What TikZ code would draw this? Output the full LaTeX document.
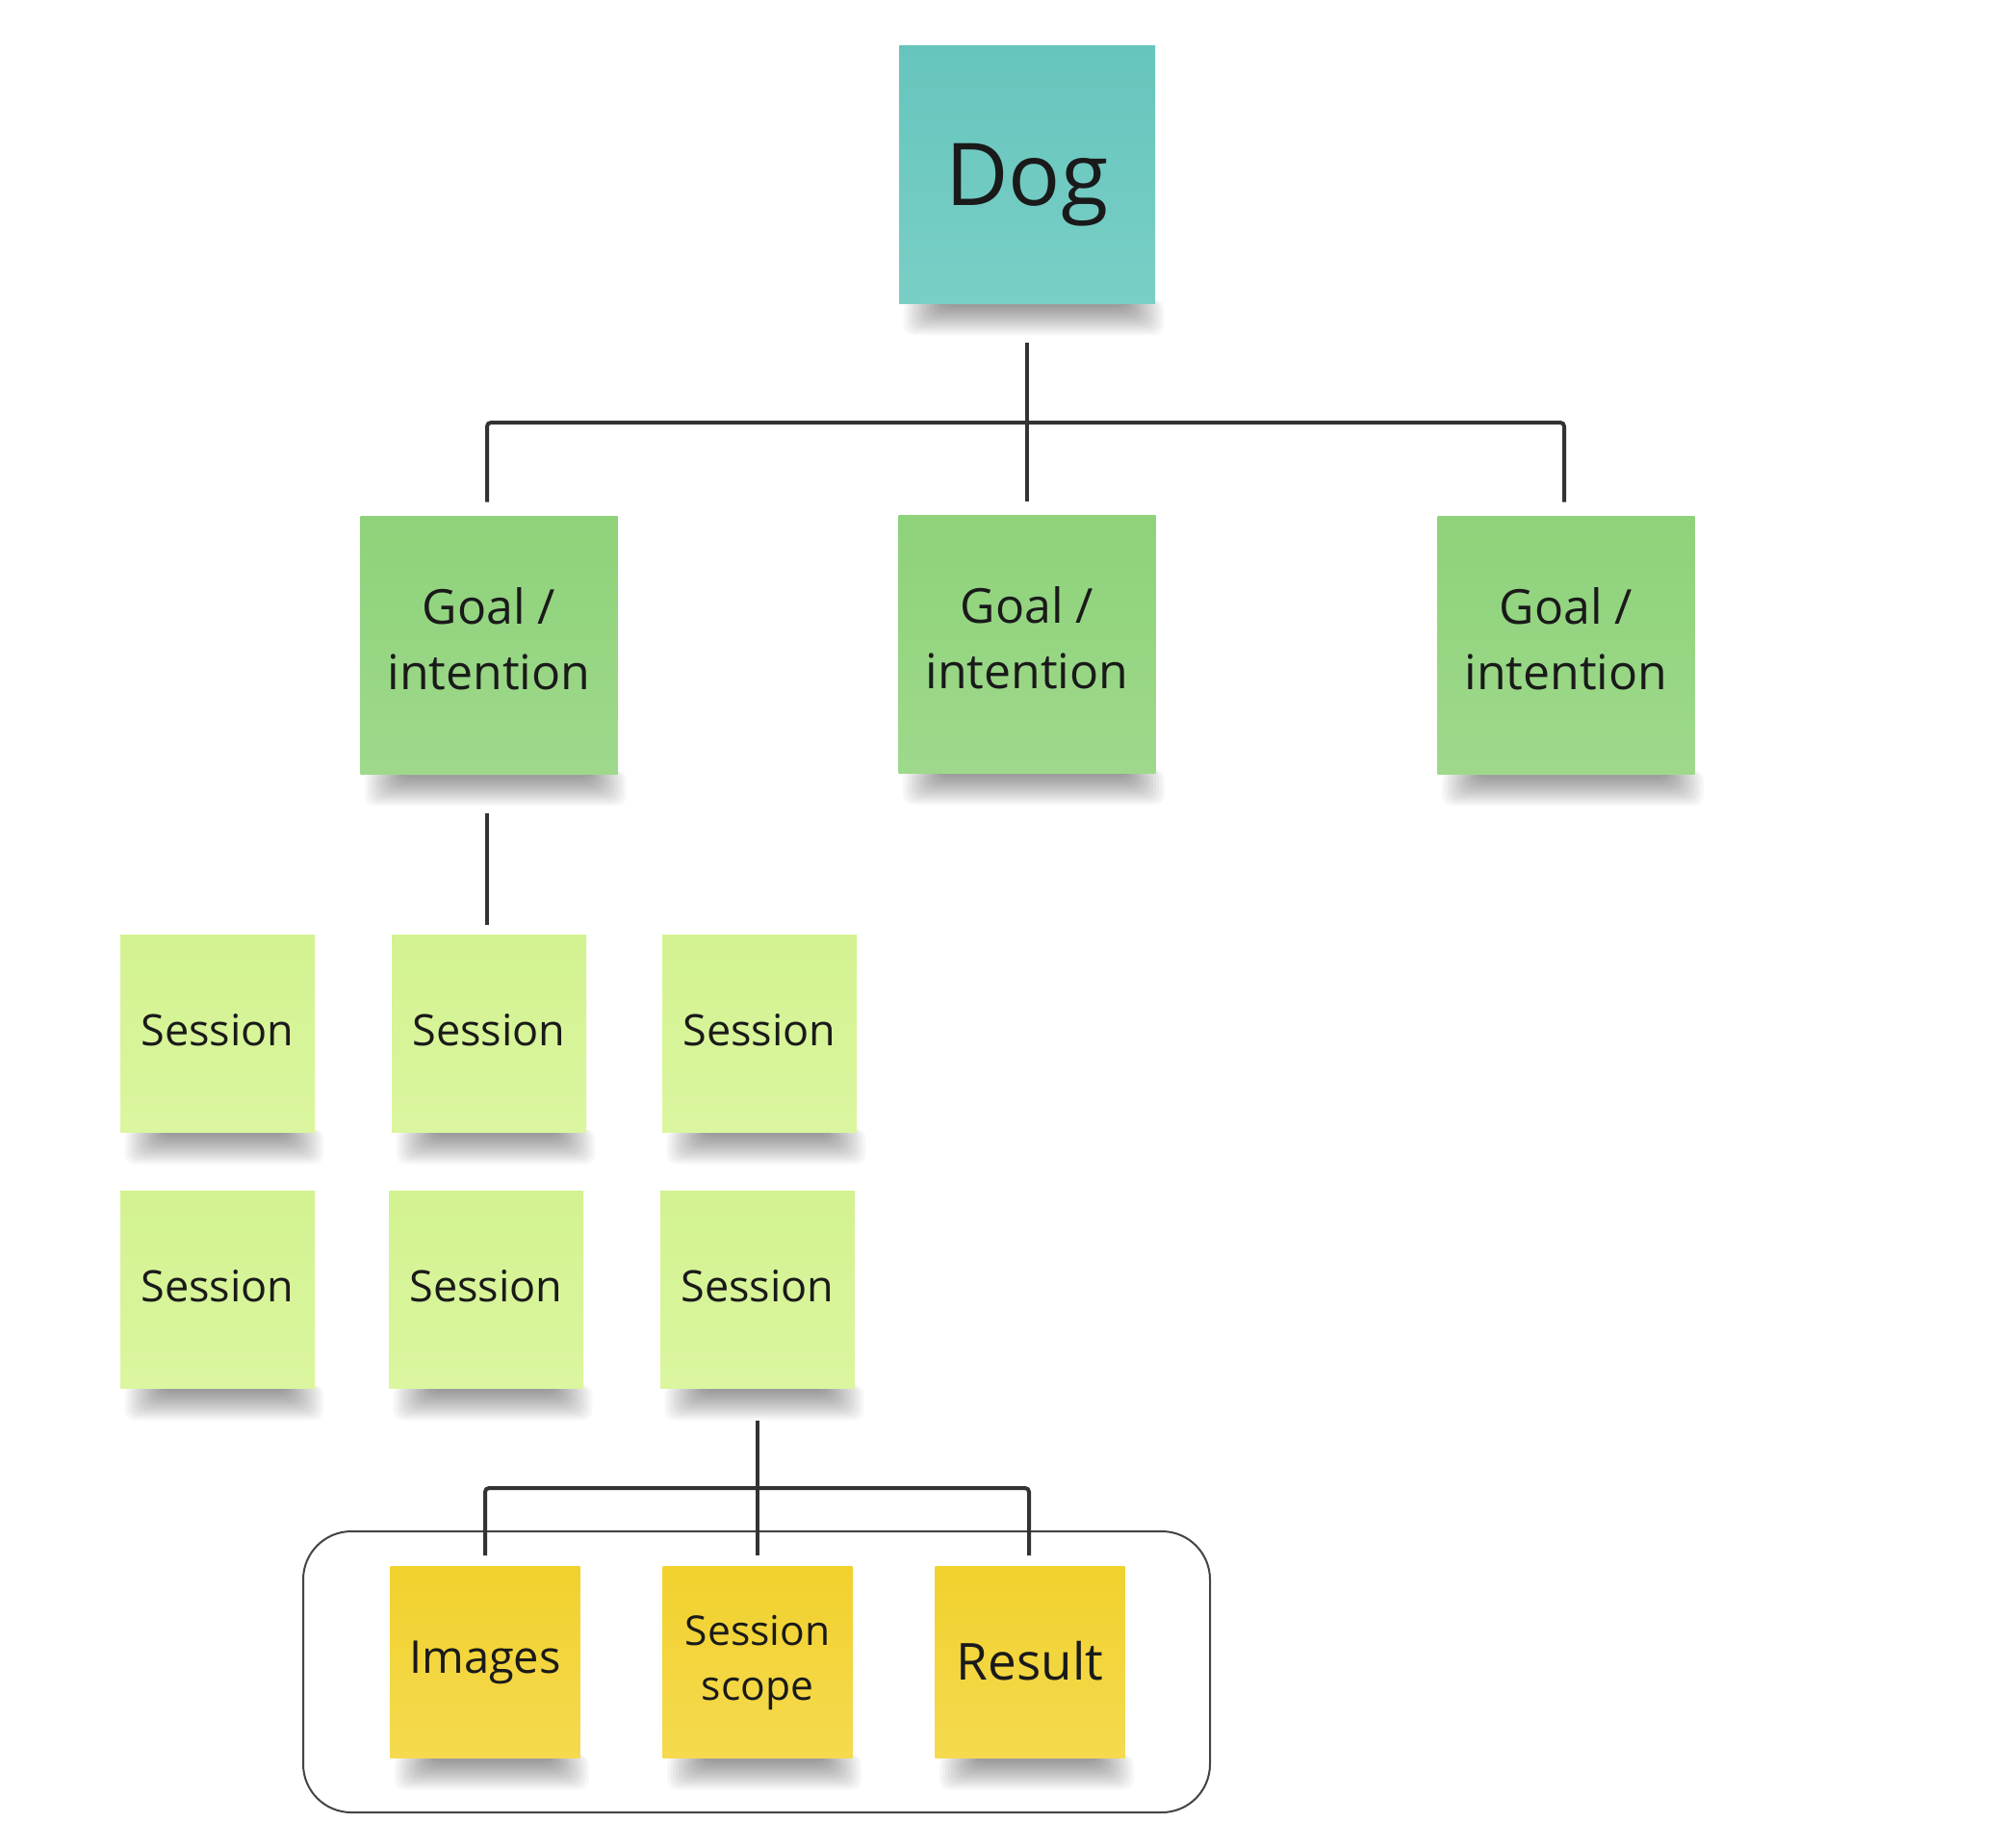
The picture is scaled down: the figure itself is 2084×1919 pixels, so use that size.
\documentclass[tikz,border=0pt]{standalone}
\usepackage{fontspec}
\setmainfont{Open Sans}
\usetikzlibrary{calc,backgrounds}
\definecolor{ink}{HTML}{1A1A1A}
\definecolor{tealT}{HTML}{66C5BD}
\definecolor{tealB}{HTML}{79CFC6}
\definecolor{greenT}{HTML}{8ED27A}
\definecolor{greenB}{HTML}{9ED98B}
\definecolor{limeT}{HTML}{D3F291}
\definecolor{limeB}{HTML}{DBF69F}
\definecolor{yelT}{HTML}{F1D12D}
\definecolor{yelB}{HTML}{F5DA4F}
\definecolor{linec}{HTML}{333333}
\definecolor{grpc}{HTML}{444444}
\tikzset{
  sticky/.style={draw=none, inner sep=0pt, align=center, text=ink},
  dogbox/.style={sticky, minimum width=133pt, minimum height=134pt, top color=tealT, bottom color=tealB, font=\fontsize{45}{54}\selectfont, text depth=0pt},
  goalbox/.style={sticky, minimum width=133.5pt, minimum height=134pt, top color=greenT, bottom color=greenB, font=\fontsize{25}{34}\selectfont, text depth=6.5pt},
  sessbox/.style={sticky, minimum width=101pt, minimum height=102.5pt, top color=limeT, bottom color=limeB, font=\fontsize{22.5}{27}\selectfont, text depth=4pt},
  yelbox/.style={sticky, minimum width=98.5pt, minimum height=99.5pt, top color=yelT, bottom color=yelB},
  conn/.style={draw=linec, line width=2pt, rounded corners=2pt},
  groupbox/.style={draw=grpc, line width=1pt, rounded corners=25pt, minimum width=471pt, minimum height=146pt, inner sep=0pt},
}
\newcommand\stickyshadow[1]{%
  \foreach \k in {0,...,13}{%
    \fill[black, opacity=0.033, rounded corners=5pt] ($(#1.south west)+(44-3*\k,-4)$) rectangle ($(#1.south east)+(-30+3*\k,4+2.2*\k)$);
  }}
\begin{document}
\begin{tikzpicture}[x=0.5pt,y=-0.5pt]
\useasboundingbox (0,0) rectangle (2084,1919);
\begin{pgfonlayer}{background}
  \fill[white] (0,0) rectangle (2084,1919);
\end{pgfonlayer}

% group frame
\node[groupbox] (grp) at (786,1737) {};

% nodes
\node[dogbox] (dog) at (1067,181) {Dog};
\node[goalbox] (gL) at (508,670) {Goal /\\intention};
\node[goalbox] (gM) at (1067,669) {Goal /\\intention};
\node[goalbox] (gR) at (1627,670) {Goal /\\intention};

\node[sessbox] (s1) at (226,1074) {Session};
\node[sessbox] (s2) at (508,1074) {Session};
\node[sessbox] (s3) at (789,1074) {Session};
\node[sessbox] (s4) at (226,1340) {Session};
\node[sessbox] (s5) at (505,1340) {Session};
\node[sessbox] (s6) at (787,1340) {Session};

\node[yelbox, font=\fontsize{23.5}{28}\selectfont] (y1) at (504,1727) {Images};
\node[yelbox, font=\fontsize{21.3}{28.5}\selectfont] (y2) at (787,1727) {Session\\scope};
\node[yelbox, font=\fontsize{26.5}{31}\selectfont, text depth=2pt] (y3) at (1070,1727) {Result};

% shadows
\begin{pgfonlayer}{background}
  \foreach \n in {dog,gL,gM,gR,s1,s2,s3,s4,s5,s6,y1,y2,y3}{\stickyshadow{\n}}
\end{pgfonlayer}

% connectors
\coordinate (j1) at (dog.south |- 0,439);
\draw[conn] ($(dog.south)+(0,41)$) -- ($(gM.north)+(0,-14)$);
\draw[conn] ($(gL.north)+(-2,-14)$) |- (j1) -| ($(gR.north)+(-2,-14)$);

\draw[conn] ($(gL.south)+(-2,41)$) -- ($(s2.north)+(-2,-10)$);

\coordinate (j2) at (s6.south |- 0,1546);
\draw[conn] ($(s6.south)+(0,33)$) -- ($(y2.north)+(0,-11)$);
\draw[conn] ($(y1.north)+(0,-11)$) |- (j2) -| ($(y3.north)+(-1,-11)$);
\end{tikzpicture}
\end{document}
